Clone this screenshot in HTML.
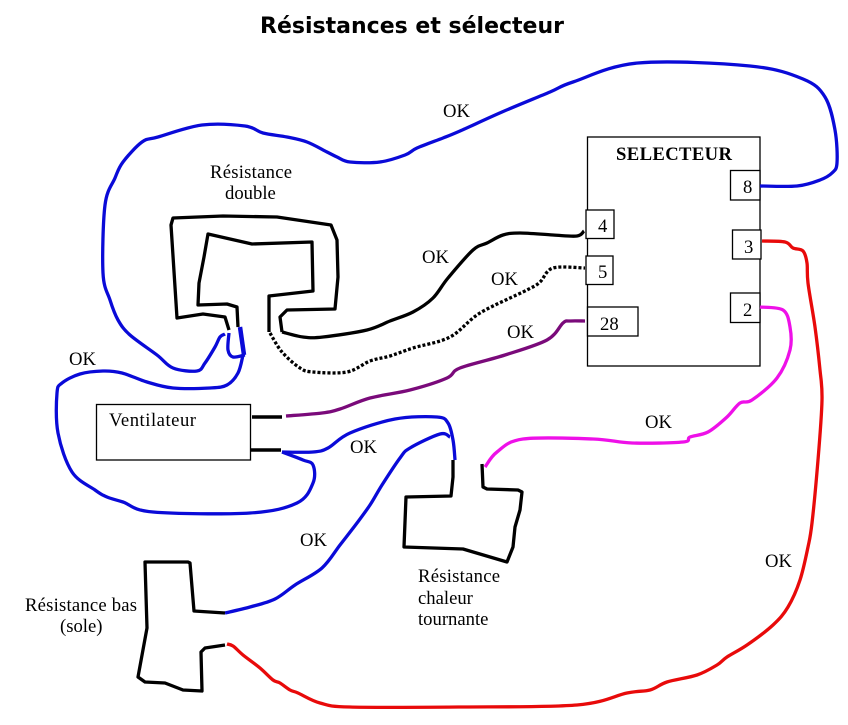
<!DOCTYPE html>
<html><head><meta charset="utf-8"><style>
html,body{margin:0;padding:0;background:#fff;width:848px;height:725px;overflow:hidden}
svg{display:block}
text{font-family:"Liberation Serif",serif;font-size:18.67px;fill:#000}
polyline,path{fill:none;stroke-width:3.3;stroke-linejoin:round;stroke-linecap:butt}
.b{stroke:#0a0ad8}.k{stroke:#000}
rect{fill:#fff;stroke:#000;stroke-width:1.3}
</style></head><body>
<svg id="d" width="848" height="725" viewBox="0 0 848 725" xmlns="http://www.w3.org/2000/svg">
<rect x="587.5" y="137" width="172.5" height="229"/>
<rect x="730.5" y="170.5" width="29.5" height="29.5"/>
<rect x="586" y="210" width="28" height="28.5"/>
<rect x="586" y="256" width="27" height="28.5"/>
<rect x="587.5" y="307" width="50.5" height="29"/>
<rect x="732.5" y="230" width="28.5" height="29"/>
<rect x="730.5" y="293" width="29.5" height="29.5"/>
<rect x="96.5" y="404.5" width="154" height="55.5"/>

<polyline class="b s" points="225,334 220,337 215,347 205,363 197,371 173,368 157,355 130,335 118,320 110,300 103,273 105,205 115,178 123,162 142,142 158,137 202,125 245,126 263,133 287,137 307,142 327,152 337,157 350,162 380,162 405,155 417,148 443,138 460,131 502,112 550,92 573,82 638,63 750,66 803,79 825,97 835,130 837,163 832,173 820,180 797,186 760,186"/>
<polyline class="k s" points="584,231 577,236 553,235 520,233 503,235 487,243 473,250 448,278 433,298 413,312 390,321 367,330 323,337 303,337 282,332"/>
<polyline class="k" points="282,332 280,317 287,310 335,309 338,277 337,240 331,225 277,217 223,216 173,218 171,225 177,318 203,314 225,317 229,330"/>
<polyline class="k" points="238,327 237,307 227,304 198,305 199,283 204,257 208,234 252,244 312,242 313,291 269,296 269,332"/>
<polyline class="b s" points="229,333 228,350 233,357 245,355"/>
<polyline class="b" style="stroke-width:4.5" points="240,327 244,355"/>
<polyline class="b s" points="243,355 238,373 227,385 210,388 173,388 147,382 122,373 103,371 80,374 62,383 57,393 58,433 72,472 95,490 107,497 123,502 153,512 250,513 297,503 313,483 313,465 303,460 282,452"/>
<polyline class="b s" points="282,452 313,452 328,448 350,433 395,419 437,417 448,423 453,440 455,460"/>
<polyline class="b s" points="225,613 250,607 275,599 295,585 322,568 340,545 357,523 370,505 382,485 400,458 410,448 440,434 450,437"/>
<polyline class="k" style="stroke-width:3.5" points="252,417 282,417"/>
<polyline class="k" style="stroke-width:3.5" points="251,450 281,450"/>
<polyline class="s" stroke="#7a0a7a" points="286,416 322,413 340,409 370,398 410,390 447,378 460,368 505,355 547,340 563,323 570,321 585,321"/>
<polyline class="k s" stroke-dasharray="3 2" points="270,333 282,352 300,368 313,372 347,372 370,361 390,356 413,348 450,337 480,313 527,290 540,282 553,268 585,268"/>
<polyline class="s" stroke="#ee10e8" points="485,467 497,452 523,439 593,439 632,443 683,442 690,437 708,432 727,417 740,403 752,400 777,378 790,350 790,327 783,310 760,307"/>
<polyline class="s" stroke="#e80a0a" points="762,241 785,242 793,248 803,251 807,263 808,283 815,327 820,370 822,400 818,460 812,523 808,547 800,580 788,607 773,625 747,645 727,657 717,665 697,675 667,682 650,690 627,693 577,705 460,707 350,707 320,703 298,693 290,690 280,683 273,680 260,668 243,655 233,646 227,644"/>
<polyline class="k" points="225,613 194,611 190,563 188,562 145,562 147,628 138,677 145,682 165,683 183,690 202,691 201,652 205,648 225,645"/>
<polyline class="k" points="453,460 453,477 451,496 406,497 404,547 463,549 507,562 513,547 515,527 520,510 522,492 518,490 487,489 483,487 482,464"/>

<text x="260" y="33" textLength="304" lengthAdjust="spacing" style="font-family:'DejaVu Sans',sans-serif;font-weight:bold;font-size:22px">Résistances et sélecteur</text>
<text x="210" y="178" textLength="82">Résistance</text>
<text x="225" y="199">double</text>
<text x="443" y="117">OK</text>
<text x="422" y="263">OK</text>
<text x="491" y="285">OK</text>
<text x="507" y="338">OK</text>
<text x="616" y="160" textLength="116" style="font-weight:bold">SELECTEUR</text>
<text x="743" y="193">8</text>
<text x="598" y="232">4</text>
<text x="598" y="278">5</text>
<text x="600" y="330">28</text>
<text x="744" y="253">3</text>
<text x="743" y="316">2</text>
<text x="69" y="365">OK</text>
<text x="109" y="426" textLength="87">Ventilateur</text>
<text x="350" y="453">OK</text>
<text x="300" y="546">OK</text>
<text x="418" y="582" textLength="82">Résistance</text>
<text x="418" y="604">chaleur</text>
<text x="418" y="625">tournante</text>
<text x="645" y="428">OK</text>
<text x="765" y="567">OK</text>
<text x="25" y="611" textLength="112">Résistance bas</text>
<text x="60" y="632">(sole)</text>
</svg>
<script>
document.querySelectorAll('polyline.s').forEach(function(l){
  var a=l.getAttribute('points').trim().split(/\s+/).map(function(p){return p.split(',').map(Number)});
  var d='M'+a[0][0]+' '+a[0][1];
  for(var i=0;i<a.length-1;i++){
    var p0=a[Math.max(i-1,0)],p1=a[i],p2=a[i+1],p3=a[Math.min(i+2,a.length-1)];
    d+=' C'+(p1[0]+(p2[0]-p0[0])/6).toFixed(1)+' '+(p1[1]+(p2[1]-p0[1])/6).toFixed(1)+' '
      +(p2[0]-(p3[0]-p1[0])/6).toFixed(1)+' '+(p2[1]-(p3[1]-p1[1])/6).toFixed(1)+' '+p2[0]+' '+p2[1];
  }
  var q=document.createElementNS('http://www.w3.org/2000/svg','path');
  q.setAttribute('d',d);
  ['class','stroke','stroke-dasharray','style'].forEach(function(n){if(l.getAttribute(n))q.setAttribute(n,l.getAttribute(n))});
  l.parentNode.replaceChild(q,l);
});
</script>
</body></html>
